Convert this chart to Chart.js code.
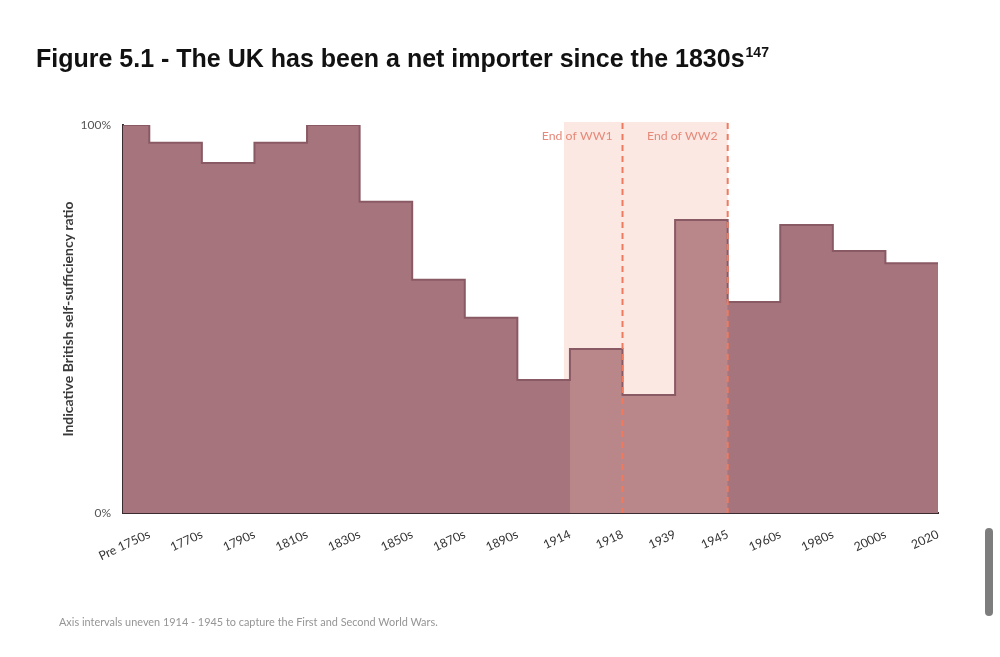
<!DOCTYPE html>
<html>
<head>
<meta charset="utf-8">
<script src="https://cdn.jsdelivr.net/npm/chart.js@4.4.1/dist/chart.umd.min.js"></script>
<style>
  html, body { margin: 0; padding: 0; background: #ffffff; width: 1000px; height: 657px; overflow: hidden; }
  #wrap { position: relative; width: 1000px; height: 657px; }
  #chart { position: absolute; left: 0; top: 0; }
  #title { position: absolute; left: 36px; top: 44px; font-family: "Liberation Sans", Arial, sans-serif; font-weight: bold; font-size: 25px; color: #111; white-space: nowrap; }
  #title sup { font-size: 14px; position: relative; top: -1px; margin-left: 1px; }
  #note { position: absolute; left: 59px; top: 615px; font-family: Lato, "Open Sans", sans-serif; font-size: 10.9px; color: #959595; white-space: nowrap; }
  #scroll { position: absolute; left: 985px; top: 528px; width: 8px; height: 88px; border-radius: 4px; background: #7d7d7d; }
</style>
</head>
<body>
<div id="wrap">
  <canvas id="chart" width="1000" height="657"></canvas>
  <div id="title">Figure 5.1 - The UK has been a net importer since the 1830s<sup>147</sup></div>
  <div id="note">Axis intervals uneven 1914 - 1945 to capture the First and Second World Wars.</div>
  <div id="scroll"></div>
</div>
<script>
// ---- data ----
const periodLabels = ['Pre 1750s', '1770s', '1790s', '1810s', '1830s', '1850s', '1870s', '1890s',
                      '1914', '1918', '1939', '1945', '1960s', '1980s', '2000s', '2020'];
const selfSufficiency = [100, 95.4, 90.2, 95.4, 100, 80.2, 60.1, 50.3,
                         34.3, 42.3, 30.4, 75.5, 54.4, 74.2, 67.5, 64.4];
const warPeriodStart = '1914';
const warPeriodEnd = '1945';
const warEndLabels = ['1918', '1945'];
const warEndTexts = ['End of WW1', 'End of WW2'];
const yTickValues = [0, 100];
const yAxisTitle = 'Indicative British self-sufficiency ratio';

// each label marks the right edge of its period; the first period starts at 0
const edgeOf = (label) => periodLabels.indexOf(label) + 0.5;

const mainPoints = [{ x: 0, y: selfSufficiency[0] }].concat(
  periodLabels.map((l, i) => ({ x: edgeOf(l), y: selfSufficiency[i] }))
);
const startIdx = periodLabels.indexOf(warPeriodStart);
const endIdx = periodLabels.indexOf(warPeriodEnd);
const warPoints = [{ x: edgeOf(warPeriodStart), y: selfSufficiency[startIdx + 1] }];
for (let i = startIdx + 1; i <= endIdx; i++) {
  warPoints.push({ x: edgeOf(periodLabels[i]), y: selfSufficiency[i] });
}

const FONT = 'Lato, "Open Sans", sans-serif';

const warPlugin = {
  id: 'warPlugin',
  beforeDraw(chart) {
    const { ctx, chartArea, scales: { x } } = chart;
    const x0 = x.getPixelForValue(edgeOf(warPeriodStart)) - 6;
    const x1 = x.getPixelForValue(edgeOf(warPeriodEnd));
    ctx.save();
    ctx.fillStyle = '#fbe8e2';
    ctx.fillRect(x0, chartArea.top - 3, x1 - x0, chartArea.bottom - chartArea.top + 3);
    ctx.restore();
  },
  afterDatasetsDraw(chart) {
    const { ctx, chartArea, scales: { x } } = chart;
    ctx.save();
    warEndLabels.forEach((lab, k) => {
      const px = x.getPixelForValue(edgeOf(lab));
      ctx.strokeStyle = '#ee7a5f';
      ctx.lineWidth = 2;
      ctx.setLineDash([6, 5]);
      ctx.beginPath();
      ctx.moveTo(px, chartArea.top - 2);
      ctx.lineTo(px, chartArea.bottom);
      ctx.stroke();
      ctx.setLineDash([]);
      ctx.fillStyle = '#e6897a';
      ctx.font = '12.3px ' + FONT;
      ctx.textAlign = 'right';
      ctx.textBaseline = 'middle';
      ctx.fillText(warEndTexts[k], px - 10, chartArea.top + 11);
    });
    ctx.restore();
  }
};

new Chart(document.getElementById('chart'), {
  type: 'line',
  data: {
    datasets: [
      {
        label: 'War years',
        data: warPoints,
        stepped: 'after',
        fill: 'origin',
        backgroundColor: '#b9868a',
        borderWidth: 0,
        borderColor: 'rgba(0,0,0,0)',
        pointRadius: 0
      },
      {
        label: 'Self-sufficiency',
        data: mainPoints,
        stepped: 'after',
        fill: 'origin',
        backgroundColor: '#a5747d',
        borderColor: '#8a5a64',
        borderWidth: 2,
        pointRadius: 0
      }
    ]
  },
  options: {
    responsive: false,
    animation: false,
    devicePixelRatio: 1,
    layout: { padding: { left: 56, top: 125, right: 62, bottom: 64 } },
    plugins: {
      legend: { display: false },
      tooltip: { enabled: false },
      filler: { drawTime: 'beforeDatasetsDraw' }
    },
    scales: {
      x: {
        type: 'linear',
        min: 0,
        max: periodLabels.length - 0.5,
        afterBuildTicks: (scale) => { scale.ticks = periodLabels.map(l => ({ value: edgeOf(l) })); },
        afterFit: (scale) => { scale.height = 80; scale.paddingLeft = 0; scale.paddingRight = 0; },
        grid: { display: false, drawTicks: false },
        border: { display: true, color: '#3a2b30', width: 2 },
        ticks: {
          autoSkip: false,
          minRotation: 25,
          maxRotation: 25,
          padding: 14,
          color: '#333333',
          font: { family: FONT, size: 12.3 },
          callback: (v, i) => periodLabels[i]
        }
      },
      y: {
        min: 0,
        max: 100,
        afterBuildTicks: (scale) => { scale.ticks = yTickValues.map(v => ({ value: v })); },
        afterFit: (scale) => { scale.width = 67; },
        grid: { display: false, drawTicks: false },
        border: { display: true, color: '#3a2b30', width: 2 },
        ticks: {
          padding: 12,
          color: '#555555',
          font: { family: FONT, size: 12 },
          callback: (v) => v + '%'
        },
        title: {
          display: true,
          text: yAxisTitle,
          color: '#3a3a3a',
          font: { family: FONT, size: 14, weight: 'bold' }
        }
      }
    }
  },
  plugins: [warPlugin]
});
</script>
</body>
</html>
